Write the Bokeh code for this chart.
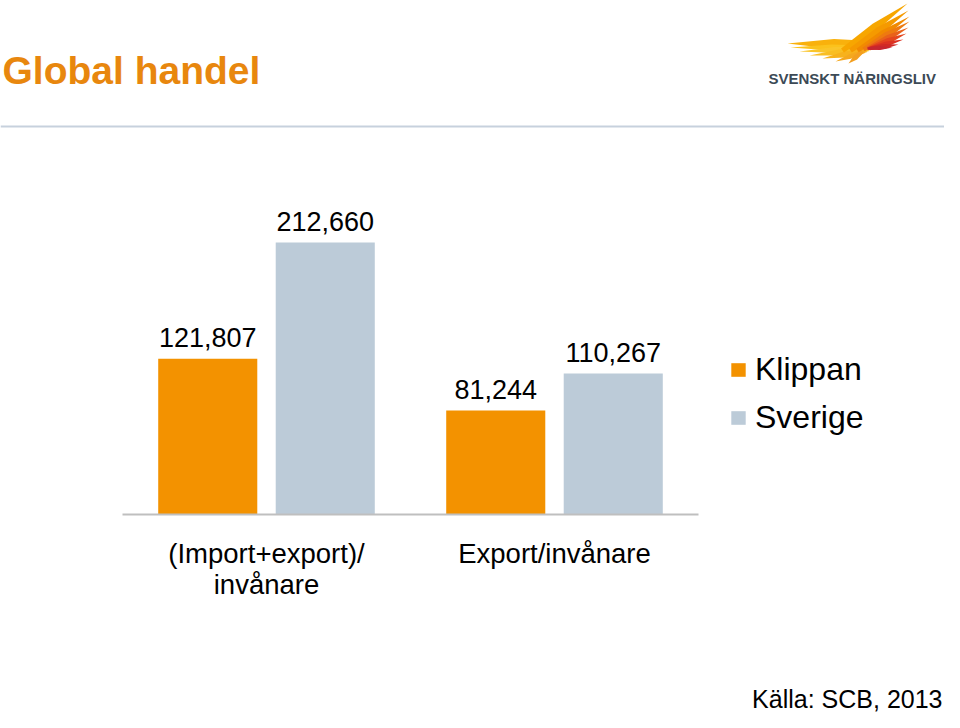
from bokeh.plotting import figure
from bokeh.models import Range1d, Legend, LegendItem, ColumnDataSource
from bokeh.core.properties import value
from bokeh.embed import file_html
from bokeh.resources import INLINE

# ---------------- data ----------------
TITLE = "Global handel"
CATEGORIES = ["(Import+export)/\ninvånare", "Export/invånare"]
SERIES = ["Klippan", "Sverige"]
KLIPPAN = [121807, 81244]
SVERIGE = [212660, 110267]
SOURCE_TEXT = "Källa: SCB, 2013"
LOGO_TEXT = "SVENSKT NÄRINGSLIV"

# ---------------- styles / layout ----------------
FONT = "Liberation Sans"
ORANGE = "#F39200"
BLUEGREY = "#BCCBD8"
TITLE_COLOR = "#E8870E"
W, H = 944, 712
PLOT_LEFT = 122            # left end of category axis (px)
CAT_W = 288                # px per category
BASE_Y = 514               # baseline of bars (px from top)
VAL_PER_PX = 782.0         # value units per pixel
BAR_W = 0.344              # in category units
DODGE = 0.204
BL = 0.34                  # baseline correction (fraction of font size)

p = figure(width=W, height=H, output_backend="svg", toolbar_location=None,
           x_range=Range1d(0, W), y_range=Range1d(H, 0),
           x_axis_location=None, y_axis_location=None,
           min_border=0, outline_line_color=None,
           background_fill_color="white", border_fill_color="white")
p.grid.visible = False

p.extra_x_ranges = {"cat": Range1d(-PLOT_LEFT / CAT_W, (W - PLOT_LEFT) / CAT_W)}
p.extra_y_ranges = {"val": Range1d(-(H - BASE_Y) * VAL_PER_PX, BASE_Y * VAL_PER_PX)}

# ---------------- bars ----------------
n = len(CATEGORIES)
src_k = ColumnDataSource(dict(x=[i + 0.5 - DODGE for i in range(n)], top=KLIPPAN,
                              label=[f"{v:,}" for v in KLIPPAN]))
src_s = ColumnDataSource(dict(x=[i + 0.5 + DODGE for i in range(n)], top=SVERIGE,
                              label=[f"{v:,}" for v in SVERIGE]))
rk = p.vbar(x="x", top="top", bottom=0, width=BAR_W, source=src_k,
            x_range_name="cat", y_range_name="val", fill_color=ORANGE, line_color=None)
rs = p.vbar(x="x", top="top", bottom=0, width=BAR_W, source=src_s,
            x_range_name="cat", y_range_name="val", fill_color=BLUEGREY, line_color=None)

for src in (src_k, src_s):
    p.text(x="x", y="top", text="label", source=src, x_range_name="cat", y_range_name="val",
           text_align="center", text_baseline="alphabetic", y_offset=-12 - BL * 27,
           text_font=value(FONT), text_font_size="27px", text_color="#000000")

# baseline axis line
p.segment(x0=[0], y0=[0], x1=[n], y1=[0], x_range_name="cat", y_range_name="val",
          line_color="#BFBFBF", line_width=2)

# category labels
lab_x, lab_y, lab_t = [], [], []
for i, c in enumerate(CATEGORIES):
    for j, line in enumerate(c.split("\n")):
        lab_x.append(i + 0.5)
        lab_y.append(562 - BL * 27.5 + j * 31)
        lab_t.append(line)
p.text(x=lab_x, y=lab_y, text=lab_t, x_range_name="cat",
       text_align="center", text_baseline="alphabetic",
       text_font=value(FONT), text_font_size="27.5px", text_color="#000000")

# ---------------- legend ----------------
legend = Legend(items=[LegendItem(label=value(SERIES[0]), renderers=[rk]),
                       LegendItem(label=value(SERIES[1]), renderers=[rs])],
                location=(729, H - 436), orientation="vertical",
                glyph_width=18, glyph_height=17, label_standoff=8, spacing=11,
                padding=0, margin=0, border_line_color=None, background_fill_alpha=0,
                label_text_font=FONT, label_text_font_size="32px", label_text_color="#000000")
p.add_layout(legend)

# ---------------- slide decorations ----------------
p.text(x=[2], y=[83 - BL * 39], text=[TITLE], text_align="left", text_baseline="alphabetic",
       text_font=value(FONT), text_font_style="bold", text_font_size="39px",
       text_color=TITLE_COLOR)
p.segment(x0=[0], y0=[126], x1=[W], y1=[126], line_color="#C7D1DD", line_width=2)
p.text(x=[W - 2], y=[H], text=[SOURCE_TEXT], text_align="right", text_baseline="bottom",
       text_font=value(FONT), text_font_size="25px", text_color="#000000")

# logo
p.text(x=[768], y=[83 - BL * 15], text=[LOGO_TEXT], text_align="left", text_baseline="alphabetic",
       text_font=value(FONT), text_font_style="bold", text_font_size="15px", text_color="#3C4A56")

WING = [
    (880, 44, 787, 43, 10, "#F9B10C"),
    (872, 47, 790, 47, 6, "#FBC21C"),
    (870, 48, 799, 51, 6, "#FAC52A"),
    (868, 49, 809, 55, 6, "#F9BE22"),
    (866, 50, 822, 58, 6, "#F7B21C"),
    (864, 51, 835, 61, 5, "#F5A81E"),
    (862, 51, 848, 63, 5, "#F39F20"),
    (842, 50, 907, 3, 8, "#F7A600"),
    (850, 50, 908, 10, 8, "#F59A00"),
    (857, 50, 909, 16, 7, "#F18A00"),
    (863, 49, 909, 21, 7, "#EE7A10"),
    (867, 48, 908, 27, 6, "#E9611A"),
    (869, 48, 906, 33, 6, "#E4461E"),
    (869, 48, 903, 39, 5, "#DC3222"),
    (869, 48, 898, 44, 5, "#D02A26"),
    (867, 48, 892, 47, 4, "#C62630"),
]
wx, wy, wc = [], [], []
for bx, by, tx, ty, w, col in WING:
    dx, dy = tx - bx, ty - by
    L = (dx * dx + dy * dy) ** 0.5
    nx, ny = -dy / L * w / 2, dx / L * w / 2
    mx, my = bx + dx * 0.5, by + dy * 0.5
    wx.append([bx + nx * 0.6, mx + nx, tx, mx - nx, bx - nx * 0.6])
    wy.append([by + ny * 0.6, my + ny, ty, my - ny, by - ny * 0.6])
    wc.append(col)
p.patches(xs=wx, ys=wy, fill_color=wc, line_color=None)

open("out.html", "w").write(file_html(p, INLINE))
